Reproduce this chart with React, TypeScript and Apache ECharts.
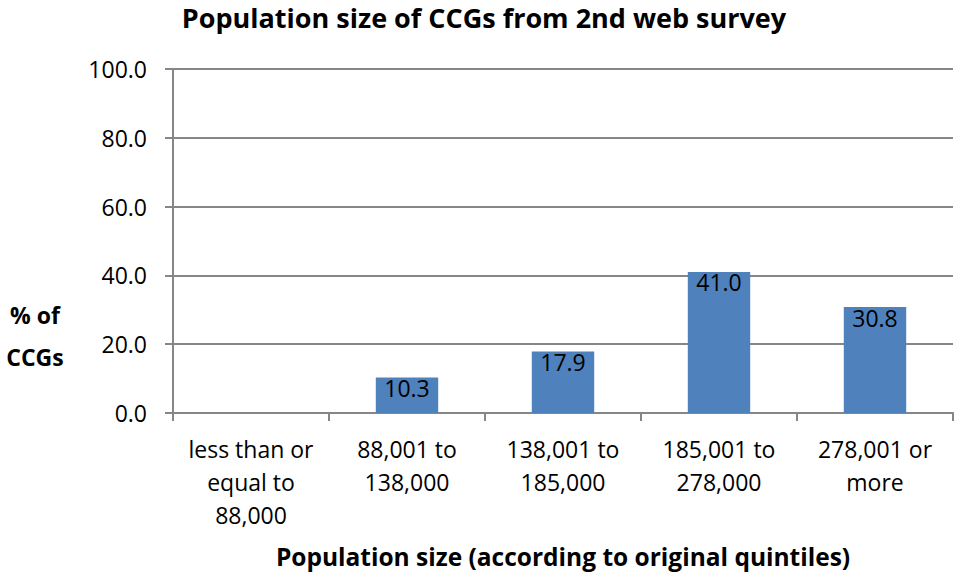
import React, { useEffect, useRef } from "react";
import * as echarts from "echarts";

const categories = [
  "less than or\nequal to\n88,000",
  "88,001 to\n138,000",
  "138,001 to\n185,000",
  "185,001 to\n278,000",
  "278,001 or\nmore",
];
const values = [0, 10.3, 17.9, 41.0, 30.8];
const yTicks = { min: 0, max: 100, interval: 20 };
const yName = ["% of", "CCGs"];

const FONT = "'Open Sans', Lato, sans-serif";

export default function App() {
  const ref = useRef<HTMLDivElement>(null);
  useEffect(() => {
    if (!ref.current) return;
    const chart = echarts.init(ref.current, undefined, { renderer: "svg" });
    chart.setOption({
      animation: false,
      textStyle: { fontFamily: FONT },
      title: {
        text: "Population size of CCGs from 2nd web survey",
        left: 479,
        textAlign: "center",
        top: -1,
        textStyle: { fontFamily: FONT, fontSize: 27, fontWeight: "bold", color: "#000" },
      },
      graphic: [
        {
          type: "text",
          x: 35,
          y: 336,
          style: {
            text: yName.join("\n"),
            align: "center",
            verticalAlign: "middle",
            fontFamily: FONT,
            fontSize: 23,
            fontWeight: "bold",
            lineHeight: 42,
            fill: "#000",
          },
        },
      ],
      grid: { left: 173, right: 1, top: 69, bottom: 158, containLabel: false },
      xAxis: {
        type: "category",
        data: categories,
        name: "Population size (according to original quintiles)",
        nameLocation: "middle",
        nameGap: 131,
        nameTextStyle: { fontFamily: FONT, fontSize: 24.5, fontWeight: "bold", color: "#000" },
        axisLine: { lineStyle: { color: "#868686", width: 2 } },
        axisTick: { show: true, length: 8, lineStyle: { color: "#868686", width: 2 } },
        axisLabel: {
          color: "#000",
          fontSize: 23,
          fontFamily: FONT,
          lineHeight: 33,
          margin: 19,
          interval: 0,
        },
      },
      yAxis: {
        type: "value",
        min: yTicks.min,
        max: yTicks.max,
        interval: yTicks.interval,
        axisLine: { show: true, lineStyle: { color: "#868686", width: 2 } },
        axisTick: { show: true, length: 8, lineStyle: { color: "#868686", width: 2 } },
        splitLine: { lineStyle: { color: "#868686", width: 2 } },
        axisLabel: {
          color: "#000",
          fontSize: 23,
          fontFamily: FONT,
          margin: 26,
          formatter: (v: number) => v.toFixed(1),
        },
      },
      series: [
        {
          type: "bar",
          data: values,
          barWidth: "40%",
          itemStyle: { color: "#4f81bd" },
          label: {
            show: true,
            position: "insideTop",
            distance: -1,
            color: "#000",
            fontSize: 23,
            fontFamily: FONT,
            formatter: (p: any) => (p.value > 0 ? Number(p.value).toFixed(1) : ""),
          },
        },
      ],
    });
    return () => chart.dispose();
  }, []);
  return <div ref={ref} style={{ width: 954, height: 574, position: "absolute", left: 0, top: 0 }} />;
}
